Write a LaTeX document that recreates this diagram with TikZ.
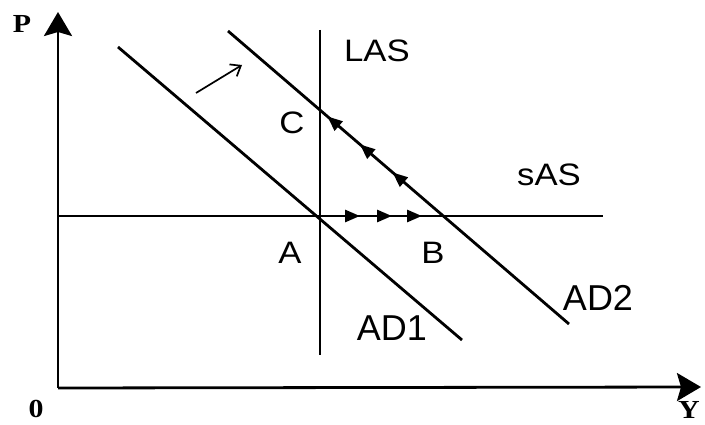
\documentclass[tikz,border=0pt]{standalone}
\usepackage{fontspec}
\setmainfont{Liberation Sans}
\newfontfamily\axfont{Liberation Serif}
\usetikzlibrary{arrows.meta,decorations.markings}
\begin{document}
\begin{tikzpicture}[x=1pt,y=-1pt,line width=2.8pt,
  lbl/.style={font=\fontsize{31}{31}\selectfont,inner sep=0pt,xscale=1.12},
  adlbl/.style={font=\fontsize{36}{36}\selectfont,inner sep=0pt},
  axlbl/.style={font=\axfont\bfseries\fontsize{26}{26}\selectfont,inner sep=0pt,xscale=1.15},
  axis/.style={line width=2.8pt,-{Stealth[length=24pt,width=28pt,inset=4pt]}},
  tri/.style={decoration={markings,#1},postaction={decorate}}]
\useasboundingbox (0,0) rectangle (705,425);
% coordinates
\coordinate (O) at (58,388);
\coordinate (Ptop) at (58,12);
\coordinate (Yend) at (701,387);
\coordinate (las1) at (320,30);
\coordinate (las2) at (320,355);
\coordinate (sas1) at (57,216);
\coordinate (sas2) at (603,216);
\coordinate (ad11) at (118,47);
\coordinate (ad12) at (462,340);
\coordinate (ad21) at (228,31);
\coordinate (ad22) at (569,324);
\coordinate (sh1) at (196,93);
\coordinate (sh2) at (242,65);
% axes
\draw[axis] (O) -- (Ptop);
\draw[axis] (O) -- (Yend);
% curves
\draw (las1) -- (las2);
\draw[tri={mark=at position 303pt with {\arrow{Triangle[length=15pt,width=12pt]}},
           mark=at position 335pt with {\arrow{Triangle[length=15pt,width=12pt]}},
           mark=at position 365pt with {\arrow{Triangle[length=15pt,width=12pt]}}}]
  (sas1) -- (sas2);
\draw (ad11) -- (ad12);
\draw[tri={mark=at position 131pt with {\arrowreversed{Triangle[length=15pt,width=12pt]}},
           mark=at position 174pt with {\arrowreversed{Triangle[length=15pt,width=12pt]}},
           mark=at position 217pt with {\arrowreversed{Triangle[length=15pt,width=12pt]}}}]
  (ad21) -- (ad22);
\draw[line width=1.7pt,-{Straight Barb[length=9pt,width=14pt]}] (sh1) -- (sh2);
% labels
\node[axlbl] (P) at (22,24) {P};
\node[axlbl] (zero) at (36,409) {0};
\node[axlbl] (Y) at (689,410) {Y};
\node[lbl] (LAS) at (377,51) {LAS};
\node[lbl] (sAS) at (549,175) {sAS};
\node[lbl] (C) at (292,123) {C};
\node[lbl] (A) at (290,253) {A};
\node[lbl] (B) at (433,253) {B};
\node[adlbl] (AD2) at (598,298) {AD2};
\node[adlbl] (AD1) at (392,328) {AD1};
\end{tikzpicture}
\end{document}
